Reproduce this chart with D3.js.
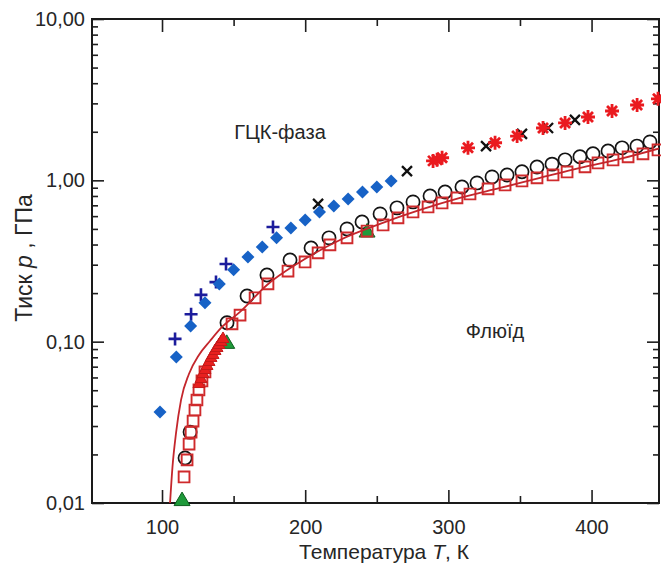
<!DOCTYPE html>
<html>
<head>
<meta charset="utf-8">
<script src="https://cdn.jsdelivr.net/npm/d3@7"></script>
<style>
  html, body { margin: 0; padding: 0; background: #fff; }
  svg { display: block; }
  text { font-family: "Liberation Sans", Arial, sans-serif; fill: #262626; }
</style>
</head>
<body>
<svg id="chart" width="661" height="564"></svg>
<script>
// Temperature in K, pressure in GPa.

// Blue diamonds
const diamondT = [98.6, 110, 120, 130, 140, 150, 160, 170, 180, 190, 200, 210, 220, 230, 240, 250, 260];
const diamondP = [0.0366, 0.0803, 0.125, 0.174, 0.228, 0.279, 0.335, 0.386, 0.440, 0.507, 0.568, 0.637, 0.693, 0.767, 0.847, 0.910, 0.99];

// Dark blue crosses
const plusT = [109.1, 120.3, 127.2, 137.7, 144.7, 177.5];
const plusP = [0.104, 0.148, 0.195, 0.234, 0.303, 0.514];

// Black x marks
const xMarkT = [209.0, 271.1, 326.3, 351.4, 369.6, 388.4];
const xMarkP = [0.715, 1.14, 1.63, 1.94, 2.11, 2.37];

// Red asterisks
const starT = [289.3, 292.1, 295.6, 313.7, 332.6, 348.0, 366.1, 381.5, 397.5, 414.3, 431.8, 446.4];
const starP = [1.32, 1.34, 1.38, 1.59, 1.71, 1.88, 2.11, 2.27, 2.47, 2.69, 2.93, 3.20];

// Black open circles
const circleT = [116.1, 119.6, 145.4, 159.4, 173.3, 189.4, 204.1, 216.6, 229.2, 239.7, 252.3, 264.1, 275.3, 287.2,
                 297.7, 309.5, 320.0, 330.5, 341.0, 351.4, 361.9, 372.4, 381.5, 391.9, 401.0, 411.5, 421.3, 431.7, 440.8];
const circleP = [0.0190, 0.0275, 0.131, 0.192, 0.259, 0.321, 0.381, 0.440, 0.500, 0.552, 0.619, 0.675, 0.735, 0.800,
                 0.847, 0.910, 0.964, 1.05, 1.08, 1.13, 1.21, 1.26, 1.34, 1.40, 1.46, 1.52, 1.59, 1.63, 1.73];

// Red open squares
const squareT = [115.4, 117.5, 118.9, 120.3, 121.7, 123.0, 124.4, 125.8, 127.9, 130.0, 148.9, 154.5, 165.0, 174.0,
                 188.0, 199.9, 209.0, 217.3, 229.2, 243.2, 254.4, 264.8, 275.3, 285.8, 295.6, 306.0, 315.1, 327.7,
                 339.6, 351.4, 361.9, 373.1, 382.9, 395.4, 404.5, 415.0, 425.5, 435.9, 446.4];
const squareP = [0.0145, 0.0185, 0.0232, 0.0275, 0.0322, 0.0377, 0.0435, 0.0502, 0.0571, 0.0649, 0.129, 0.146, 0.187, 0.228,
                 0.274, 0.312, 0.355, 0.398, 0.440, 0.485, 0.529, 0.585, 0.637, 0.684, 0.724, 0.778, 0.823, 0.885,
                 0.936, 0.991, 1.035, 1.080, 1.127, 1.211, 1.282, 1.338, 1.397, 1.458, 1.543];

// Red filled triangles (dense run near the triple point)
const redTriT = [125.8, 127.2, 128.6, 130.0, 131.4, 132.8, 134.2, 135.6, 137.0, 138.4, 139.8, 141.2, 142.6];
const redTriP = [0.0554, 0.0595, 0.0639, 0.0677, 0.0717, 0.0759, 0.0804, 0.0839, 0.0888, 0.0927, 0.0967, 0.1009, 0.1054];

// Green triangles
const greenT = [114.0, 145.2, 243.2];
const greenP = [0.0105, 0.099, 0.485];

// Melting curve
const curveT = [105.6, 107.3, 109.8, 113.3, 118.8, 125.8, 133.5, 141.9, 154.5, 173.3, 196.4, 224.3, 252.3, 280.2,
                308.1, 336.1, 364.0, 392.0, 419.9, 448.5];
const curveP = [0.0100, 0.0167, 0.0272, 0.0436, 0.0630, 0.0827, 0.1009, 0.1233, 0.153, 0.2246, 0.312, 0.427, 0.537, 0.655,
                0.778, 0.897, 1.035, 1.194, 1.358, 1.588];

// Axis ticks
const xMajorTicks = [100, 200, 300, 400];
const xMinorTicks = [150, 250, 350];
const yMajorTicks = [0.01, 0.1, 1, 10];
const yTickLabels = ["0,01", "0,10", "1,00", "10,00"];

const phaseLabels = [
  { text: "ГЦК-фаза", T: 182.4, p: 1.80 },
  { text: "Флюїд", T: 332.6, p: 0.105 }
];

const plot = { left: 92, right: 659, top: 19, bottom: 503 };

const x = d3.scaleLinear().domain([51.1, 447.1]).range([plot.left, plot.right]);
const y = d3.scaleLog().domain([0.01, 10]).range([plot.bottom, plot.top]);

const svg = d3.select("#chart");

const yMinorTicks = [];
[0.01, 0.1, 1].forEach(d => { for (let k = 2; k <= 9; k++) yMinorTicks.push(+(d * k).toPrecision(3)); });

const zip = (a, b) => a.map((v, i) => ({ T: v, p: b[i] }));

svg.append("defs").append("clipPath").attr("id", "plot-clip")
  .append("rect")
  .attr("x", plot.left).attr("y", plot.top)
  .attr("width", plot.right - plot.left).attr("height", plot.bottom - plot.top);

// ---- axes ----
const tickColor = "#1e1e1e";
function styleAxis(g, width) {
  g.select(".domain").remove();
  g.selectAll(".tick line").attr("stroke", tickColor).attr("stroke-width", width);
  g.selectAll(".tick text").style("font-size", "20px").attr("fill", "#262626");
}

// left
svg.append("g").attr("transform", `translate(${plot.left},0)`)
  .call(d3.axisLeft(y).tickValues(yMajorTicks).tickSize(-12).tickPadding(7)
    .tickFormat((d, i) => yTickLabels[i]))
  .call(g => styleAxis(g, 1.6));
svg.append("g").attr("transform", `translate(${plot.left},0)`)
  .call(d3.axisLeft(y).tickValues(yMinorTicks).tickSize(-6).tickFormat(""))
  .call(g => styleAxis(g, 1.6));
// right
svg.append("g").attr("transform", `translate(${plot.right},0)`)
  .call(d3.axisRight(y).tickValues(yMajorTicks).tickSize(-12).tickFormat(""))
  .call(g => styleAxis(g, 1.6));
svg.append("g").attr("transform", `translate(${plot.right},0)`)
  .call(d3.axisRight(y).tickValues(yMinorTicks).tickSize(-6).tickFormat(""))
  .call(g => styleAxis(g, 1.6));
// bottom
svg.append("g").attr("transform", `translate(0,${plot.bottom})`)
  .call(d3.axisBottom(x).tickValues(xMajorTicks).tickSize(-13).tickPadding(17).tickFormat(d3.format("d")))
  .call(g => styleAxis(g, 1.6));
svg.append("g").attr("transform", `translate(0,${plot.bottom})`)
  .call(d3.axisBottom(x).tickValues(xMinorTicks).tickSize(-7).tickFormat(""))
  .call(g => styleAxis(g, 1.6));
// top
svg.append("g").attr("transform", `translate(0,${plot.top})`)
  .call(d3.axisTop(x).tickValues(xMajorTicks).tickSize(-13).tickFormat(""))
  .call(g => styleAxis(g, 1.6));
svg.append("g").attr("transform", `translate(0,${plot.top})`)
  .call(d3.axisTop(x).tickValues(xMinorTicks).tickSize(-7).tickFormat(""))
  .call(g => styleAxis(g, 1.6));

// frame
svg.append("rect")
  .attr("x", plot.left).attr("y", plot.top)
  .attr("width", plot.right - plot.left).attr("height", plot.bottom - plot.top)
  .attr("fill", "none").attr("stroke", "#1a1a1a").attr("stroke-width", 2);

// ---- axis titles ----
const xTitle = svg.append("text")
  .attr("x", 384).attr("y", 559).attr("text-anchor", "middle")
  .style("font-size", "21px").attr("fill", "#333");
xTitle.append("tspan").text("Температура ");
xTitle.append("tspan").style("font-style", "italic").text("T");
xTitle.append("tspan").text(", К");

const yTitle = svg.append("text")
  .attr("transform", "translate(32,258) rotate(-90)").attr("text-anchor", "middle")
  .style("font-size", "23px").attr("fill", "#333");
yTitle.append("tspan").text("Тиск ");
yTitle.append("tspan").style("font-style", "italic").text("p");
yTitle.append("tspan").text(" , ГПа");

// ---- data marks ----
const marks = svg.append("g");

function drawPath(data, d, attrs) {
  const sel = marks.append("g").selectAll("path").data(data).join("path")
    .attr("d", d)
    .attr("transform", v => `translate(${x(v.T)},${y(v.p)})`);
  Object.entries(attrs).forEach(([k, v]) => sel.attr(k, v));
  return sel;
}

// open circles
marks.append("g").selectAll("circle").data(zip(circleT, circleP)).join("circle")
  .attr("cx", d => x(d.T)).attr("cy", d => y(d.p)).attr("r", 6.6)
  .attr("fill", "none").attr("stroke", "#141414").attr("stroke-width", 1.7);

// green triangles
drawPath(zip(greenT, greenP), "M0,-7.5L8,6L-8,6Z",
  { fill: "#1f9a3a", stroke: "#0f5f1f", "stroke-width": 1 });

// open squares
drawPath(zip(squareT, squareP), "M-5.4,-5.4H5.4V5.4H-5.4Z",
  { fill: "none", stroke: "#cf2a2c", "stroke-width": 1.9 });

// red filled triangles
drawPath(zip(redTriT, redTriP), "M0,-6L6,4.5L-6,4.5Z",
  { fill: "#e8201f", stroke: "#c41a1a", "stroke-width": 1 });

// melting curve
const line = d3.line().x(d => x(d.T)).y(d => y(d.p)).curve(d3.curveMonotoneX);
marks.append("path")
  .datum(zip(curveT, curveP))
  .attr("d", line)
  .attr("clip-path", "url(#plot-clip)")
  .attr("fill", "none").attr("stroke", "#c4262c").attr("stroke-width", 1.8);

// dark blue crosses
drawPath(zip(plusT, plusP), "M-6.5,0H6.5M0,-6.5V6.5",
  { fill: "none", stroke: "#1c1c9c", "stroke-width": 2.6 });

// black x marks
drawPath(zip(xMarkT, xMarkP), "M-5,-5L5,5M-5,5L5,-5",
  { fill: "none", stroke: "#111", "stroke-width": 2.3 });

// blue diamonds
drawPath(zip(diamondT, diamondP), "M0,-6.5L6.5,0L0,6.5L-6.5,0Z",
  { fill: "#1762c6", stroke: "none" });

// red asterisks
drawPath(zip(starT, starP), "M-7,0H7M0,-7V7M-5,-5L5,5M-5,5L5,-5",
  { fill: "none", stroke: "#ea1a1f", "stroke-width": 2.8 });

// phase labels
svg.append("g").selectAll("text").data(phaseLabels).join("text")
  .attr("x", d => x(d.T)).attr("y", d => y(d.p))
  .attr("text-anchor", "middle")
  .style("font-size", "20px").attr("fill", "#1a1a1a")
  .text(d => d.text);
</script>
</body>
</html>
